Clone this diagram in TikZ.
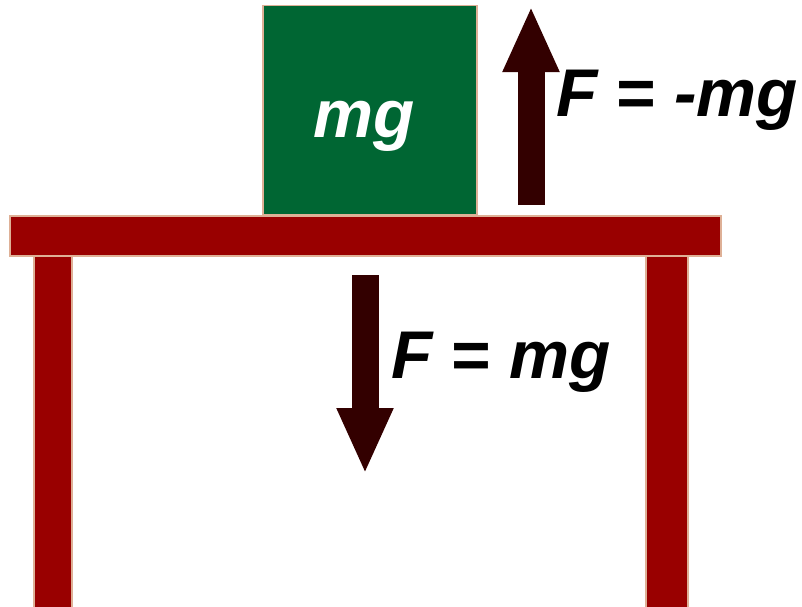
\documentclass[tikz,border=0pt]{standalone}
\usepackage{fontspec}
\setsansfont{Liberation Sans}
\usepackage{tikz}
\usetikzlibrary{arrows.meta,positioning}
\definecolor{tablered}{RGB}{153,0,0}
\definecolor{blockgreen}{RGB}{0,102,51}
\definecolor{edgetan}{RGB}{222,176,150}
\definecolor{forcebrown}{RGB}{51,0,0}
\tikzset{
  base/.style={font=\sffamily\bfseries\itshape\fontsize{67.5}{72}\selectfont, inner sep=0pt, outer sep=0pt},
  slab/.style={rectangle, draw=edgetan, fill=tablered, line width=1.2pt, inner sep=0pt},
  block/.style={rectangle, draw=edgetan, fill=blockgreen, line width=1.2pt, inner sep=0pt},
  force/.style={draw=forcebrown, line width=27pt, -{Triangle[length=66pt,width=52pt]}},
  lbl/.style={base, text=black, anchor=base west},
}

\begin{document}
\begin{tikzpicture}[x=1pt,y=-1pt]
  \useasboundingbox (0,0) rectangle (802,606);
  % table
  \node[slab,minimum width=711pt,minimum height=40pt] (top) at (365.5,236) {};
  \node[slab,minimum width=38pt,minimum height=352pt,anchor=north] (legl) at (53,256) {};
  \node[slab,minimum width=42pt,minimum height=352pt,anchor=north] (legr) at (667,256) {};
  % block on the table
  \node[block,minimum width=214pt,minimum height=209pt,anchor=south,xshift=4.5pt] (mass) at (top.north) {};
  \node[base,text=white,anchor=base] (masslbl) at (364,137) {mg};
  % forces
  \coordinate (upfoot) at (531,205);
  \coordinate (uptip) at (531,6);
  \coordinate (dnfoot) at (365,275);
  \coordinate (dntip) at (365,474);
  \draw[force] (upfoot) -- (uptip);
  \draw[force] (dnfoot) -- (dntip);
  \node[lbl] (fup) at (556,116) {F = -mg};
  \node[lbl] (fdn) at (391,378) {F = mg};
\end{tikzpicture}
\end{document}
